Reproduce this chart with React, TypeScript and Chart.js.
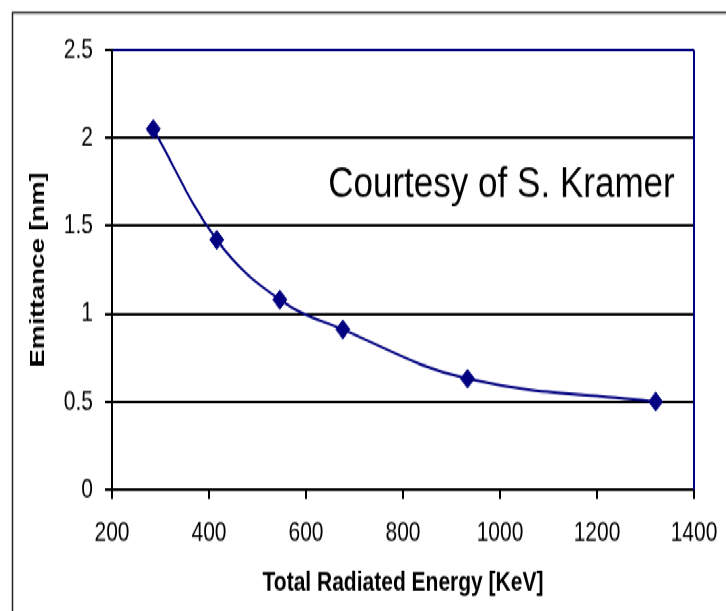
import React, { useEffect, useRef } from "react";
import { Chart, registerables } from "chart.js";

Chart.register(...registerables);

// ---- data ----
const energyKeV = [285, 416, 546, 676, 933, 1321];
const emittanceNm = [2.05, 1.42, 1.08, 0.91, 0.63, 0.5];
const xTickValues = [200, 400, 600, 800, 1000, 1200, 1400];
const yTickValues = [0, 0.5, 1, 1.5, 2, 2.5];
const xTitle = "Total Radiated Energy [KeV]";
const yTitle = "Emittance [nm]";
const noteText = "Courtesy of S. Kramer";
const notePos = { x: 1003, y: 1.665 };

// ---- styling ----
const W = 726;
const H = 453;
const STRETCH = 611 / H;
const FONT = "'Liberation Sans', Arial, Helvetica, sans-serif";
const NAVY = "#000080";

const framePlugin = {
  id: "frame",
  beforeDraw(chart: any) {
    const ctx = chart.ctx;
    ctx.save();
    ctx.strokeStyle = "#222";
    ctx.lineWidth = 1.5;
    ctx.beginPath();
    ctx.moveTo(12.5, chart.height);
    ctx.lineTo(12.5, 9.4);
    ctx.lineTo(chart.width, 9.4);
    ctx.stroke();
    ctx.restore();
  },
  afterDraw(chart: any) {
    const ctx = chart.ctx;
    const a = chart.chartArea;
    ctx.save();
    ctx.strokeStyle = NAVY;
    ctx.lineWidth = 2;
    ctx.beginPath();
    ctx.moveTo(a.right, a.top);
    ctx.lineTo(a.right, a.bottom);
    ctx.stroke();
    // annotation text
    const xs = chart.scales.x;
    const ys = chart.scales.y;
    const px = xs.getPixelForValue(notePos.x);
    const py = ys.getPixelForValue(notePos.y);
    ctx.translate(px, py);
    ctx.scale(1.13, 1);
    ctx.fillStyle = "#000";
    ctx.font = `31px ${FONT}`;
    ctx.textAlign = "center";
    ctx.textBaseline = "alphabetic";
    ctx.fillText(noteText, 0, 0);
    ctx.restore();
  },
};

export default function App() {
  const ref = useRef<HTMLCanvasElement | null>(null);

  useEffect(() => {
    if (!ref.current) return;
    const chart = new Chart(ref.current, {
      type: "scatter",
      data: {
        datasets: [
          {
            data: energyKeV.map((x, i) => ({ x, y: emittanceNm[i] })),
            showLine: true,
            borderColor: NAVY,
            borderWidth: 2,
            tension: 0.4,
            pointStyle: "rectRot",
            pointRadius: 7,
            pointBackgroundColor: NAVY,
            pointBorderColor: NAVY,
            pointBorderWidth: 1,
          },
        ],
      },
      options: {
        responsive: false,
        animation: false,
        devicePixelRatio: 1,
        layout: { padding: { top: 37, right: 32, bottom: 0, left: 0 } },
        plugins: {
          legend: { display: false },
          tooltip: { enabled: false },
        },
        scales: {
          x: {
            type: "linear",
            min: 200,
            max: 1400,
            afterBuildTicks: (s: any) => {
              s.ticks = xTickValues.map((v) => ({ value: v }));
            },
            afterFit: (s: any) => {
              s.height = 90;
              s.paddingLeft = 0;
              s.paddingRight = 0;
            },
            grid: {
              drawOnChartArea: false,
              drawTicks: true,
              tickLength: 7,
              color: "#000",
              lineWidth: 2,
            },
            border: { display: true, color: "#000", width: 2 },
            ticks: {
              padding: 13,
              color: "#000",
              font: { family: FONT, size: 21 },
              callback: (v: any) => String(v),
              maxRotation: 0,
              autoSkip: false,
            },
            title: {
              display: true,
              text: xTitle,
              color: "#000",
              font: { family: FONT, size: 21, weight: "bold" },
              padding: { top: 0, bottom: 8.5 },
            },
          },
          y: {
            type: "linear",
            min: 0,
            max: 2.5,
            afterBuildTicks: (s: any) => {
              s.ticks = yTickValues.map((v) => ({ value: v }));
            },
            afterFit: (s: any) => {
              s.width = 112;
            },
            grid: {
              color: (c: any) => (c.tick && c.tick.value === 2.5 ? NAVY : "#000"),
              tickColor: "#000",
              lineWidth: 2,
              drawTicks: true,
              tickLength: 7,
            },
            border: { display: true, color: "#000", width: 2 },
            ticks: {
              padding: 12,
              color: "#000",
              font: { family: FONT, size: 21 },
              callback: (v: any) => String(v),
            },
            title: {
              display: true,
              text: yTitle,
              color: "#000",
              font: { family: FONT, size: 20, weight: "bold" },
              padding: { top: 26, bottom: 0 },
            },
          },
        },
      },
      plugins: [framePlugin],
    } as any);
    return () => chart.destroy();
  }, []);

  return (
    <div
      style={{
        position: "absolute",
        left: 0,
        top: 0,
        width: W,
        height: H,
        transform: `scaleY(${STRETCH})`,
        transformOrigin: "0 0",
        background: "#fff",
      }}
    >
      <canvas ref={ref} width={W} height={H} style={{ display: "block" }} />
    </div>
  );
}
